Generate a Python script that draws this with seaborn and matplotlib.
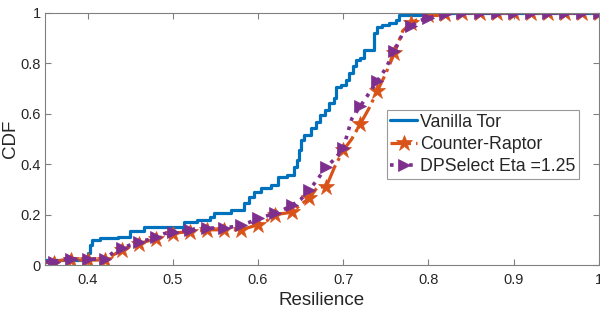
import numpy as np
import pandas as pd
import matplotlib
matplotlib.use("Agg")
import matplotlib.pyplot as plt
import seaborn as sns

# --- dados ---
res_grid = [round(0.35 + 0.01 * i, 2) for i in range(66)]

counter_raptor = [0.01, 0.01, 0.02, 0.02, 0.02, 0.02, 0.02, 0.02, 0.04, 0.06,
                  0.075, 0.085, 0.095, 0.105, 0.115, 0.125, 0.13, 0.13, 0.135, 0.14,
                  0.14, 0.14, 0.14, 0.14, 0.15, 0.16, 0.175, 0.20, 0.205, 0.21,
                  0.24, 0.265, 0.31, 0.31, 0.39, 0.455, 0.50, 0.56, 0.62, 0.69,
                  0.76, 0.84, 0.93, 0.96, 0.98, 0.99, 0.99, 0.995, 1.0, 1.0,
                  1.0, 1.0, 1.0, 1.0, 1.0, 1.0, 1.0, 1.0, 1.0, 1.0,
                  1.0, 1.0, 1.0, 1.0, 1.0, 1.0]

dpselect = [0.013, 0.013, 0.024, 0.024, 0.024, 0.024, 0.024, 0.024, 0.05, 0.066,
            0.08, 0.093, 0.10, 0.11, 0.125, 0.132, 0.135, 0.139, 0.147, 0.147,
            0.147, 0.147, 0.152, 0.159, 0.17, 0.185, 0.195, 0.205, 0.22, 0.238,
            0.26, 0.298, 0.34, 0.39, 0.42, 0.463, 0.58, 0.63, 0.68, 0.73,
            0.78, 0.85, 0.92, 0.95, 0.97, 0.98, 0.99, 0.995, 1.0, 1.0,
            1.0, 1.0, 1.0, 1.0, 1.0, 1.0, 1.0, 1.0, 1.0, 1.0,
            1.0, 1.0, 1.0, 1.0, 1.0, 1.0]

vanilla_x = [0.35, 0.397, 0.400, 0.403, 0.405, 0.415, 0.436, 0.45, 0.466, 0.509, 0.513,
             0.528, 0.544, 0.548, 0.568, 0.583, 0.590, 0.595, 0.603, 0.615, 0.623,
             0.634, 0.642, 0.646, 0.648, 0.650, 0.654, 0.662, 0.668, 0.673, 0.679,
             0.683, 0.689, 0.691, 0.697, 0.703, 0.707, 0.711, 0.715, 0.720, 0.724,
             0.732, 0.736, 0.740, 0.746, 0.754, 0.762, 0.766, 0.793, 1.0]
vanilla_y = [0.022, 0.022, 0.05, 0.08, 0.10, 0.106, 0.112, 0.136, 0.15, 0.15, 0.172,
             0.179, 0.192, 0.205, 0.218, 0.245, 0.27, 0.29, 0.304, 0.317, 0.35,
             0.357, 0.39, 0.417, 0.456, 0.496, 0.516, 0.542, 0.569, 0.595, 0.615,
             0.642, 0.661, 0.708, 0.714, 0.734, 0.76, 0.788, 0.813, 0.82, 0.853,
             0.853, 0.92, 0.946, 0.952, 0.96, 0.972, 0.992, 1.0, 1.0]

x_ticks = [0.4, 0.5, 0.6, 0.7, 0.8, 0.9, 1.0]
x_tick_labels = ["0.4", "0.5", "0.6", "0.7", "0.8", "0.9", "1"]
y_ticks = [0, 0.2, 0.4, 0.6, 0.8, 1.0]
y_tick_labels = ["0", "0.2", "0.4", "0.6", "0.8", "1"]

# --- estilo ---
sns.set_style("white")
plt.rcParams['font.family'] = ['Liberation Sans', 'DejaVu Sans']

fig = plt.figure(figsize=(6, 3.09), dpi=100)
ax = fig.add_axes([0.075, 0.142, 0.923, 0.816])

df_cr = pd.DataFrame({"Resilience": res_grid, "CDF": counter_raptor})
df_dp = pd.DataFrame({"Resilience": res_grid, "CDF": dpselect})
df_vt = pd.DataFrame({"Resilience": vanilla_x, "CDF": vanilla_y})

sns.lineplot(data=df_vt, x="Resilience", y="CDF", ax=ax, color="#0072BD",
             linewidth=2.3, label="Vanilla Tor", sort=False, drawstyle="steps-post")
sns.lineplot(data=df_cr, x="Resilience", y="CDF", ax=ax, color="#D95319",
             linewidth=2.3, linestyle="-.", marker="*", markersize=12,
             markevery=(1, 2), markeredgewidth=0.5, markeredgecolor="#D95319",
             label="Counter-Raptor")
sns.lineplot(data=df_dp, x="Resilience", y="CDF", ax=ax, color="#7E2F8E",
             linewidth=2.6, linestyle=":", marker=">", markersize=8,
             markevery=(1, 2), markeredgewidth=0.5, markeredgecolor="#7E2F8E",
             label="DPSelect Eta =1.25")

ax.set_xlim(0.35, 1.0)
ax.set_ylim(0, 1)
ax.set_xticks(x_ticks)
ax.set_xticklabels(x_tick_labels)
ax.set_yticks(y_ticks)
ax.set_yticklabels(y_tick_labels)
ax.tick_params(direction="in", length=4, width=0.8, color="#808080",
               labelsize=10.5, labelcolor="#262626", top=True, right=True,
               bottom=True, left=True)
ax.tick_params(axis="x", pad=6)
ax.tick_params(axis="y", pad=3)
for sp in ax.spines.values():
    sp.set_color("#808080")
    sp.set_linewidth(0.8)
ax.set_xlabel("Resilience", fontsize=13.5, color="#262626", labelpad=3)
ax.set_ylabel("CDF", fontsize=13.5, color="#262626", labelpad=1)

leg = ax.legend(loc="upper left", bbox_to_anchor=(0.617, 0.615), fontsize=12.8,
                frameon=True, fancybox=False, edgecolor="#808080",
                handlelength=1.5, handletextpad=0.2, borderpad=0.2,
                labelspacing=0.3, borderaxespad=0)
leg.get_frame().set_linewidth(0.8)

plt.savefig("out.png", dpi=100)
plt.close()
